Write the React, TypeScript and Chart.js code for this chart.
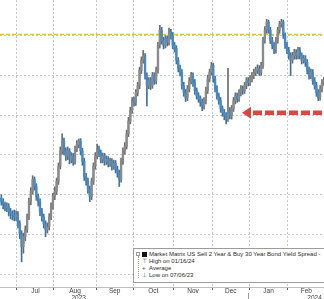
import React, { useEffect, useRef } from 'react';
import { Chart, registerables } from 'chart.js';

Chart.register(...registerables);

// Daily OHLC of the 2s30s spread (bps), trading days from late Jun 2023 to end Feb 2024
const firstOpen = -40.8;
const closes = [
  -41.7, -42.4, -43.2, -42.9, -44.2, -44.7, -45.2, -45.5, -44.9, -47.2,
  -49.7, -53.0, -50.5, -48.7, -45.5, -41.7, -39.1, -36.1, -37.9, -40.4,
  -41.7, -44.2, -45.5, -47.2, -48.7, -48.0, -45.5, -42.9, -40.4, -39.1,
  -36.6, -32.8, -29.0, -26.5, -29.0, -30.3, -29.0, -31.1, -30.3, -31.6,
  -28.5, -27.3, -26.5, -29.0, -31.6, -35.4, -36.6, -38.6, -40.4, -36.6,
  -32.8, -30.3, -28.5, -29.5, -31.1, -30.3, -31.6, -31.1, -32.1, -31.6,
  -32.8, -32.1, -33.6, -34.6, -36.1, -31.6, -29.0, -27.8, -24.7, -21.5,
  -18.9, -16.4, -16.9, -14.4, -12.6, -8.8, -6.3, -5.1, -10.1, -12.6,
  -11.4, -12.6, -10.1, -11.4, -8.8, -2.5, 1.3, -1.3, -2.5, -0.8,
  -1.8, 0.8, 0.0, -2.5, -3.3, -6.3, -8.3, -9.3, -12.6, -14.4,
  -15.7, -13.4, -11.4, -10.1, -11.9, -13.9, -15.2, -15.9, -16.9, -17.7,
  -16.4, -13.9, -10.9, -9.3, -7.6, -10.9, -13.4, -15.2, -16.4, -18.4,
  -19.4, -20.2, -21.0, -18.9, -20.2, -18.4, -16.4, -15.2, -15.9, -14.4,
  -13.4, -13.9, -12.6, -11.4, -11.9, -10.9, -10.1, -9.3, -8.8, -8.3,
  -9.3, -7.6, -1.3, 1.3, 3.3, 1.3, -1.3, -2.5, -3.8, -1.3,
  1.3, 2.8, 3.3, 0.0, -2.5, -3.8, -5.1, -6.3, -5.1, -4.3,
  -5.1, -3.8, -5.1, -6.3, -5.8, -6.8, -8.8, -10.1, -9.3, -11.4,
  -12.6, -14.4, -15.7, -13.4, -11.9, -11.4,
];
const highs = [
  -40.0, -41.0, -41.8, -42.0, -42.2, -43.4, -44.0, -43.8, -44.0, -44.2,
  -46.5, -49.0, -49.6, -47.8, -44.8, -40.8, -38.2, -35.2, -35.5, -37.2,
  -39.8, -41.0, -43.4, -44.8, -46.5, -47.0, -44.7, -42.0, -39.6, -38.0,
  -35.8, -32.0, -28.0, -24.7, -25.8, -28.2, -28.0, -28.4, -29.4, -29.6,
  -27.8, -26.4, -26.0, -25.9, -28.3, -30.8, -34.6, -35.8, -37.8, -35.8,
  -32.0, -29.4, -27.3, -27.8, -28.8, -29.5, -29.6, -30.2, -30.4, -30.8,
  -30.9, -31.3, -31.4, -32.8, -33.8, -30.8, -28.2, -26.9, -23.8, -20.6,
  -18.0, -15.6, -15.5, -13.6, -11.8, -8.0, -5.4, -3.8, -4.6, -9.4,
  -10.6, -10.6, -9.3, -9.4, -8.0, -1.8, 2.5, 2.0, -0.5, 0.0,
  0.0, 1.8, 1.5, 0.7, -1.8, -2.6, -5.6, -7.5, -8.6, -11.8,
  -13.6, -12.6, -10.6, -9.3, -9.4, -11.1, -13.2, -14.4, -15.2, -16.0,
  -15.6, -13.0, -10.0, -8.5, -6.8, -7.0, -10.2, -12.6, -14.5, -15.6,
  -17.7, -18.6, -19.4, -8.3, -18.1, -17.6, -15.6, -14.4, -14.5, -13.6,
  -12.6, -12.7, -11.8, -10.6, -10.6, -10.1, -9.3, -8.5, -8.0, -7.4,
  -7.6, -6.8, -0.5, 2.2, 4.0, 3.8, 2.0, -0.5, -1.8, -0.5,
  2.0, 3.5, 4.0, 3.8, 0.6, -1.8, -3.0, -4.4, -4.3, -3.5,
  -3.6, -3.0, -3.1, -4.4, -5.0, -5.1, -6.1, -8.0, -8.5, -8.6,
  -10.6, -11.8, -13.6, -12.6, -11.1, -10.6,
];
const lows = [
  -42.6, -43.5, -44.0, -44.2, -45.3, -46.0, -46.3, -46.5, -46.4, -48.3,
  -51.0, -56.8, -54.6, -51.5, -49.4, -46.2, -42.5, -39.8, -38.8, -41.4,
  -42.8, -45.2, -46.6, -48.3, -50.5, -49.6, -48.8, -46.2, -43.6, -41.2,
  -39.9, -37.4, -33.5, -29.8, -30.0, -31.4, -31.2, -32.2, -32.0, -32.6,
  -32.3, -29.2, -28.2, -30.0, -32.6, -36.4, -37.6, -39.6, -41.7, -41.2,
  -37.4, -33.6, -31.0, -30.4, -32.0, -32.0, -32.6, -32.4, -33.0, -32.9,
  -33.8, -33.6, -34.5, -35.6, -37.9, -36.8, -32.4, -29.8, -28.5, -25.4,
  -22.2, -19.6, -17.8, -17.6, -15.2, -13.4, -9.6, -7.0, -11.0, -17.7,
  -13.4, -13.6, -13.3, -12.3, -12.2, -9.5, -3.2, -2.2, -3.4, -3.2,
  -2.7, -2.5, -1.0, -3.4, -4.2, -7.2, -9.2, -10.2, -13.5, -15.3,
  -16.6, -16.4, -14.2, -12.2, -12.8, -14.8, -16.0, -16.8, -17.8, -18.9,
  -18.5, -17.2, -14.6, -11.7, -10.0, -11.8, -14.2, -16.0, -17.3, -19.3,
  -20.3, -21.2, -22.2, -21.6, -21.0, -21.0, -19.1, -17.2, -16.8, -16.6,
  -15.2, -14.8, -14.6, -13.4, -12.7, -12.6, -11.7, -10.9, -10.1, -9.6,
  -10.1, -10.0, -8.3, -2.0, 0.5, 0.5, -2.1, -3.4, -4.6, -4.5,
  -2.0, 0.5, 2.0, -0.8, -3.3, -4.6, -6.0, -10.1, -7.0, -6.0,
  -6.0, -5.9, -5.9, -7.2, -7.0, -7.8, -9.7, -11.0, -10.9, -12.3,
  -13.5, -15.3, -16.4, -16.3, -14.2, -12.6,
];

// Axis layout (bar index units)
const monthStarts = [8.5, 28.5, 51.5, 71.5, 93.5, 114.5, 134.5, 155.5];
const monthMids = [18.5, 40, 61.5, 82.5, 104, 124.5, 145, 165.5];
const monthNames = ['Jul', 'Aug', 'Sep', 'Oct', 'Nov', 'Dec', 'Jan', 'Feb'];
const yearPositions = [42, 170];
const yearNames = ['2023', '2024'];
const yearBreak = 134.5;
const yGridValues = [0, -10, -20, -30, -40, -50, -60];
const averageLevel = 0.2;
const arrowLevel = -19.4;
const arrowTipIndex = 130.6;
const xMin = -0.72;
const xMax = 175.1;
const yMin = -63.1;
const yMax = 8.84;

const legendTitle = 'Market Matrix US Sell 2 Year & Buy 30 Year Bond Yield Spread -';
const legendItems = [
  { sym: '\u22A4', label: 'High on 01/16/24' },
  { sym: '+', label: 'Average' },
  { sym: '\u22A5', label: 'Low on 07/06/23' },
];

const UP = '#8a8a8a';
const DOWN = '#4a89c0';
const UP_WICK = '#6c6c6c';
const DOWN_WICK = '#3a72a4';

const opens = closes.map((_, i) => (i === 0 ? firstOpen : closes[i - 1]));

const isStart = (v: number) => monthStarts.some((m) => Math.abs(m - v) < 1e-6);

const annotPlugin = {
  id: 'annot',
  afterDatasetsDraw(chart: any) {
    const { ctx, chartArea, scales } = chart;
    const x = scales.x;
    const y = scales.y;
    const yy = y.getPixelForValue(arrowLevel);
    const tip = x.getPixelForValue(arrowTipIndex);
    ctx.save();
    ctx.strokeStyle = '#d9473f';
    ctx.lineWidth = 4.5;
    ctx.setLineDash([9, 3]);
    ctx.beginPath();
    ctx.moveTo(tip + 11, yy);
    ctx.lineTo(chartArea.right + 6, yy);
    ctx.stroke();
    ctx.setLineDash([]);
    ctx.fillStyle = '#d9473f';
    ctx.beginPath();
    ctx.moveTo(tip, yy);
    ctx.lineTo(tip + 9, yy - 6);
    ctx.lineTo(tip + 9, yy + 6);
    ctx.closePath();
    ctx.fill();
    ctx.restore();
  },
  afterDraw(chart: any) {
    const { ctx, chartArea, scales } = chart;
    const xb = Math.round(scales.x.getPixelForValue(yearBreak)) - 0.5;
    ctx.save();
    ctx.strokeStyle = '#9a9a9a';
    ctx.lineWidth = 1;
    ctx.beginPath();
    ctx.moveTo(xb, chartArea.bottom + 6);
    ctx.lineTo(xb, chart.height);
    ctx.stroke();
    ctx.restore();
  },
};

export default function App() {
  const ref = useRef<HTMLCanvasElement>(null);

  useEffect(() => {
    document.body.style.margin = '0';
    const canvas = ref.current!;
    const colorFor = (i: number, up: string, down: string) => (closes[i] >= opens[i] ? up : down);
    const chart = new Chart(canvas, {
      type: 'bar',
      data: {
        datasets: [
          {
            type: 'line',
            data: [
              { x: xMin, y: averageLevel },
              { x: xMax, y: averageLevel },
            ],
            borderColor: '#e1c12f',
            borderWidth: 1.4,
            borderDash: [4, 2],
            pointRadius: 0,
            order: 3,
          } as any,
          {
            type: 'bar',
            data: closes.map((_, i) => ({ x: i, y: [lows[i], highs[i]] })),
            backgroundColor: (c: any) => colorFor(c.dataIndex, UP_WICK, DOWN_WICK),
            barThickness: 1,
            grouped: false,
            borderWidth: 0,
            order: 2,
          } as any,
          {
            type: 'bar',
            data: closes.map((c, i) => ({ x: i, y: [opens[i], c] })),
            backgroundColor: (c: any) => colorFor(c.dataIndex, UP, DOWN),
            barThickness: 1.7,
            grouped: false,
            borderWidth: 0,
            order: 1,
          } as any,
        ],
      },
      options: {
        responsive: false,
        animation: false,
        devicePixelRatio: 1,
        layout: { padding: 0 },
        plugins: { legend: { display: false }, tooltip: { enabled: false } },
        scales: {
          x: {
            type: 'linear',
            min: xMin,
            max: xMax,
            offset: false,
            afterBuildTicks: (scale: any) => {
              const vals = [...monthStarts, ...monthMids, ...yearPositions].sort((a, b) => a - b);
              scale.ticks = vals.map((v) => ({ value: v }));
            },
            grid: {
              offset: false,
              color: (c: any) => (c.tick && isStart(c.tick.value) ? '#c6c6c6' : 'rgba(0,0,0,0)'),
              tickColor: (c: any) => (c.tick && isStart(c.tick.value) ? '#5a5a5a' : 'rgba(0,0,0,0)'),
              tickLength: 3,
              lineWidth: 1,
            },
            border: { display: true, color: '#bdbdbd', width: 1, dash: [2, 2] },
            ticks: {
              autoSkip: false,
              maxRotation: 0,
              minRotation: 0,
              padding: -2,
              color: '#3c3c3c',
              font: { family: 'Liberation Sans', size: 6.5, lineHeight: 1 },
              callback: (v: any) => {
                const mi = monthMids.indexOf(v);
                if (mi >= 0) return [monthNames[mi], ''];
                const yi = yearPositions.indexOf(v);
                if (yi >= 0) return ['', yearNames[yi]];
                return ['', ''];
              },
            },
          },
          y: {
            type: 'linear',
            min: yMin,
            max: yMax,
            beginAtZero: false,
            afterBuildTicks: (scale: any) => {
              scale.ticks = yGridValues.map((v) => ({ value: v }));
            },
            grid: { color: '#c6c6c6', drawTicks: false, lineWidth: 1 },
            border: { display: false, dash: [2, 2] },
            ticks: { display: false },
          },
        },
      } as any,
      plugins: [annotPlugin],
    });
    return () => chart.destroy();
  }, []);

  return (
    <div style={{ position: 'relative', width: 324, height: 299, overflow: 'hidden', background: '#fff' }}>
      <canvas ref={ref} width={324} height={299} style={{ width: 324, height: 299, display: 'block' }} />
      <div
        style={{
          position: 'absolute',
          left: 133,
          top: 248,
          width: 210,
          height: 35,
          boxSizing: 'border-box',
          border: '1px solid #9c9c9c',
          background: '#fff',
          fontFamily: 'Liberation Sans',
          fontSize: '6px',
          color: '#2a2a2a',
          whiteSpace: 'nowrap',
        }}
      >
        <div
          style={{
            position: 'absolute',
            left: 4,
            top: 7,
            height: 22,
            borderLeft: '1px dotted #9a9a9a',
          }}
        />
        <div style={{ position: 'absolute', left: 2, top: 3, width: 4, height: 4, border: '1px solid #9a9a9a', background: '#fff', boxSizing: 'border-box' }} />
        <div style={{ position: 'absolute', left: 8, top: 2.5, width: 5, height: 5, background: '#111' }} />
        <div style={{ position: 'absolute', left: 15, top: 1.5, lineHeight: '7px' }}>{legendTitle}</div>
        {legendItems.map((it, i) => (
          <div key={i} style={{ position: 'absolute', left: 8, top: 8.7 + i * 7.3, lineHeight: '7px' }}>
            <span style={{ display: 'inline-block', width: 7, color: '#555' }}>{it.sym}</span>
            {it.label}
          </div>
        ))}
      </div>
    </div>
  );
}
